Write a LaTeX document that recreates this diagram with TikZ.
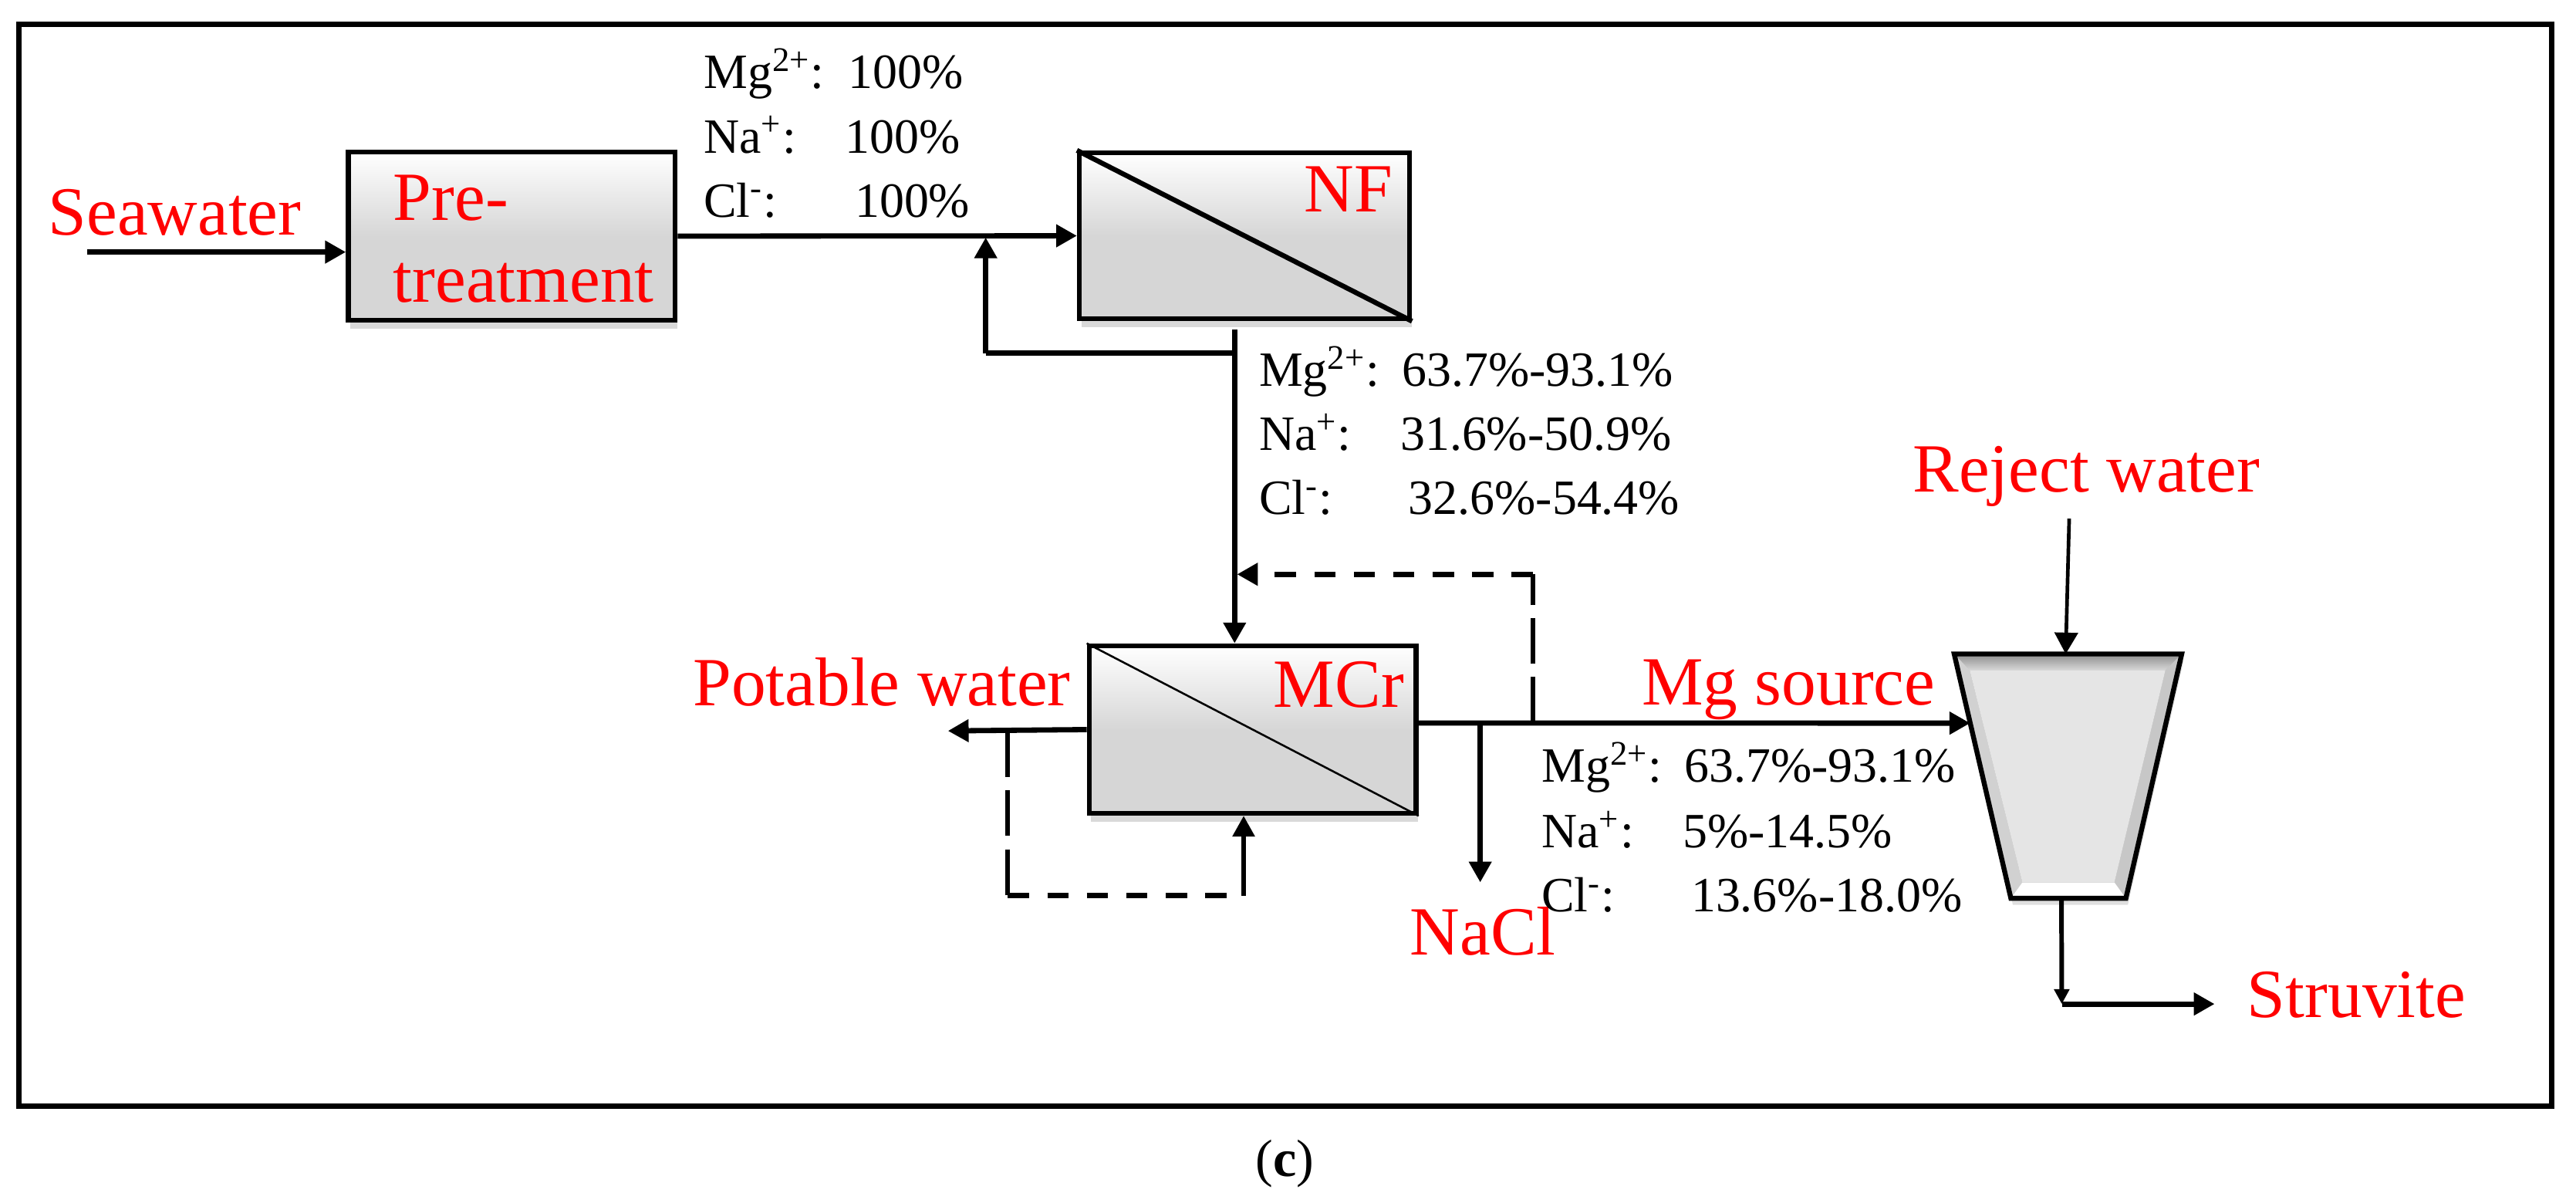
\documentclass[tikz,border=0pt]{standalone}
\usepackage{fontspec}
\setmainfont{Liberation Serif}
\usetikzlibrary{arrows.meta,fit,shadows,calc}
\newcommand\ionrow[3]{\makebox[#2][l]{#1}#3}
\begin{document}
\begin{tikzpicture}[x=0.5pt,y=-0.5pt,
 flow/.style={line width=1.6pt, -{Triangle[length=6.3pt,width=6.6pt]}},
 flowthin/.style={line width=1.1pt, -{Triangle[length=6.5pt,width=7pt]}},
 plainline/.style={line width=1.6pt},
 dashv/.style={line width=1.4pt, dash pattern=on 14pt off 4pt},
 dashh/.style={line width=1.6pt, dash pattern=on 6.5pt off 5.5pt},
 unit/.style={draw, line width=1.5pt, inner sep=0pt, top color=white, bottom color=black!16, middle color=black!16,
   drop shadow={shadow xshift=0.6pt, shadow yshift=-2.5pt, opacity=0.3}},
 redlbl/.style={text=red, font=\fontsize{21}{24}\selectfont, inner sep=0pt},
 ionlbl/.style={font=\fontsize{15}{18}\selectfont, inner sep=0pt, anchor=base west},
]
\useasboundingbox (0,0) rectangle (1568,732);
\draw[line width=1.65pt] (11.7,15) rectangle (1553.3,673.3);

% units
\node[unit, fit={(212,92.4) (411,195)}] (pre) {};
\node[unit, fit={(657,93) (858,194)}] (nf) {};
\node[unit, fit={(663,393) (862,495)}] (mcr) {};
\draw[line width=1.5pt] (nf.north west) -- (nf.south east);
\draw[line width=0.6pt] (mcr.north west) -- (mcr.south east);

% trapezoid (mixer)
\coordinate (tTL) at (1189.5,398);
\coordinate (tTR) at (1328,398);
\coordinate (tBR) at (1294,546.7);
\coordinate (tBL) at (1224,546.7);
\coordinate (iTL) at (1199,408);
\coordinate (iTR) at (1318,408);
\coordinate (iBR) at (1287,537);
\coordinate (iBL) at (1231,537);
\fill[black!30, drop shadow={shadow xshift=0.6pt, shadow yshift=-2pt, opacity=0.25}] (tTL) -- (tTR) -- (tBR) -- (tBL) -- cycle;
\shade[top color=black!45, bottom color=black!15] (tTL) -- (tTR) -- (iTR) -- (iTL) -- cycle;
\fill[black!18] (tTL) -- (iTL) -- (iBL) -- (tBL) -- cycle;
\fill[black!22] (tTR) -- (iTR) -- (iBR) -- (tBR) -- cycle;
\fill[white] (tBL) -- (iBL) -- (iBR) -- (tBR) -- cycle;
\fill[black!10] (iTL) -- (iTR) -- (iBR) -- (iBL) -- cycle;
\draw[line width=1.5pt] (tTL) -- (tTR) -- (tBR) -- (tBL) -- cycle;
\node[fit={(tTL) (tBR)}, inner sep=0pt] (mix) {};

% red labels
\node[redlbl, anchor=base west] (sea) at (29,143) {Seawater};
\node[redlbl, anchor=base west] (pre1) at (239,134) {Pre-};
\node[redlbl, anchor=base west] (pre2) at (239,184) {treatment};
\node[redlbl, anchor=base east] (nft) at (848,129) {NF};
\node[redlbl, anchor=base east] (mcrt) at (855,430.5) {MCr};
\node[redlbl, anchor=base east] (pot) at (652,429.5) {Potable water};
\node[redlbl, anchor=base west] (mgs) at (999,429) {Mg source};
\node[redlbl, anchor=base west] (nacl) at (858,581) {NaCl};
\node[redlbl, anchor=base west] (rej) at (1164,299.5) {Reject water};
\node[redlbl, anchor=base west] (stru) at (1367.5,619) {Struvite};

% ion labels
\node[ionlbl] (a1) at (428,54) {\ionrow{Mg\textsuperscript{2+}:}{44pt}{100\%}};
\node[ionlbl] (a2) at (428,93) {\ionrow{Na\textsuperscript{+}:}{43pt}{100\%}};
\node[ionlbl] (a3) at (428,132) {\ionrow{Cl\textsuperscript{-}:}{46pt}{100\%}};
\node[ionlbl] (b1) at (766,235) {\ionrow{Mg\textsuperscript{2+}:}{43.5pt}{63.7\%-93.1\%}};
\node[ionlbl] (b2) at (766,274) {\ionrow{Na\textsuperscript{+}:}{43pt}{31.6\%-50.9\%}};
\node[ionlbl] (b3) at (766,313) {\ionrow{Cl\textsuperscript{-}:}{45.5pt}{32.6\%-54.4\%}};
\node[ionlbl] (c1) at (938,476) {\ionrow{Mg\textsuperscript{2+}:}{43.5pt}{63.7\%-93.1\%}};
\node[ionlbl] (c2) at (938,516) {\ionrow{Na\textsuperscript{+}:}{43pt}{5\%-14.5\%}};
\node[ionlbl] (c3) at (938,555) {\ionrow{Cl\textsuperscript{-}:}{45.5pt}{13.6\%-18.0\%}};

% caption
\node[font=\fontsize{16}{19}\selectfont, inner sep=0pt, anchor=base] (cap) at (782,716) {(\textbf{c})};

% connectors
\coordinate (seaS) at (53,153.4);
\draw[flow] (seaS) -- (seaS -| pre.west);
\draw[flow] (pre.east) -- (nf.west);

\coordinate (nfout) at (751.5,200.5);
\coordinate (rc1) at (751.5,215);
\coordinate (rc2) at (600,215);
\coordinate (rc3) at (600,144.5);
\draw[flow] (nfout) -- (nfout |- mcr.north);
\draw[plainline] (rc1) -- (rc2);
\draw[flow] (rc2) -- (rc3);

% MCr outputs
\coordinate (mcro) at (862,440);
\coordinate (mixin) at ($(tTL)!0.283!(tBL)$);
\draw[flow] (mcro) -- (mixin);
\coordinate (naclj) at (901,440);
\draw[flow] (naclj) -- (901,537);
\coordinate (potend) at (577,444.8);
\draw[flow] (mcr.west) -- (potend);

% dashed recycle to MCr feed
\coordinate (d1) at (933,440);
\coordinate (d2) at (933,349.5);
\coordinate (d3) at (753,349.5);
\draw[dashv] (d1) -- (d2);
\draw[dashh, -{Triangle[length=6.3pt,width=6.6pt]}] (d2) -- (d3);

% dashed recycle on permeate side
\coordinate (e1) at (613.5,444.8);
\coordinate (e2) at (613.5,545);
\coordinate (e3) at (757,545);
\draw[dashv] (e1) -- (e2);
\draw[dashh] (e2) -- (e3);
\draw[line width=1.3pt, -{Triangle[length=6.3pt,width=6.6pt]}] (e3) -- (e3 |- mcr.south);

% reject water and struvite
\coordinate (rejS) at (1259.5,315.6);
\draw[flowthin] (rejS) -- ($(tTL)!0.49!(tTR)$);
\coordinate (sv1) at ($(tBL)!0.44!(tBR)$);
\coordinate (sv2) at (1255,611);
\coordinate (sv3) at (1348,611);
\draw[line width=1.4pt, -{Triangle[length=4.5pt,width=4.5pt]}] (sv1) -- (sv2);
\draw[flow] (sv2) -- (sv3);
\end{tikzpicture}
\end{document}
